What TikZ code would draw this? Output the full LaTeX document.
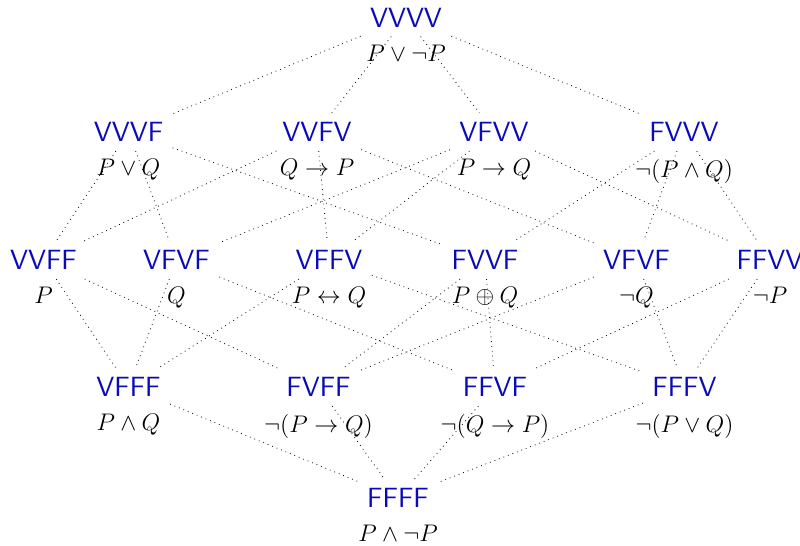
\documentclass[tikz,border=0pt]{standalone}
\usepackage{fontspec}
\definecolor{labc}{RGB}{10,10,185}
\begin{document}
\begin{tikzpicture}[x=0.5pt,y=-0.5pt,
  lab/.style={font=\fontsize{13.9}{16}\sffamily, text=labc, inner sep=4.5pt},
  fml/.style={font=\fontsize{12}{14}\selectfont, anchor=north, inner sep=3.9pt},
  edge/.style={dotted, line width=0.4pt}]
\useasboundingbox (0,0) rectangle (800,546);
% row 0
\node[lab] (a0) at (406,17.5) {VVVV};
% row 1
\node[lab] (b1) at (128.5,132) {VVVF};
\node[lab] (b2) at (317,132) {VVFV};
\node[lab] (b3) at (494,132) {VFVV};
\node[lab] (b4) at (684,132) {FVVV};
% row 2
\node[lab] (c1) at (43.5,260) {VVFF};
\node[lab] (c2) at (176.5,260) {VFVF};
\node[lab] (c3) at (329,260) {VFFV};
\node[lab] (c4) at (485,260) {FVVF};
\node[lab] (c5) at (636.5,260) {VFVF};
\node[lab] (c6) at (770,260) {FFVV};
% row 3
\node[lab] (d1) at (128.5,387) {VFFF};
\node[lab] (d2) at (318.5,387) {FVFF};
\node[lab] (d3) at (495,387) {FFVF};
\node[lab] (d4) at (684.5,387) {FFFV};
% row 4
\node[lab] (e) at (398,498) {FFFF};
% formulas
\node[fml] (fa0) at (a0.south) {$P\lor\neg P$};
\node[fml] (fb1) at (b1.south) {$P\lor Q$};
\node[fml] (fb2) at (b2.south) {$Q\to P$};
\node[fml] (fb3) at (b3.south) {$P\to Q$};
\node[fml] (fb4) at (b4.south) {$\neg(P\land Q)$};
\node[fml] (fc1) at (c1.south) {$P$};
\node[fml] (fc2) at (c2.south) {$Q$};
\node[fml] (fc3) at (c3.south) {$P\leftrightarrow Q$};
\node[fml] (fc4) at (c4.south) {$P\oplus Q$};
\node[fml] (fc5) at (c5.south) {$\neg Q$};
\node[fml] (fc6) at (c6.south) {$\neg P$};
\node[fml] (fd1) at (d1.south) {$P\land Q$};
\node[fml] (fd2) at (d2.south) {$\neg(P\to Q)$};
\node[fml] (fd3) at (d3.south) {$\neg(Q\to P)$};
\node[fml] (fd4) at (d4.south) {$\neg(P\lor Q)$};
\node[fml] (fe) at (e.south) {$P\land\neg P$};
% edges
\foreach \t in {b1,b2,b3,b4} \draw[edge] (a0) -- (\t);
\foreach \t in {c1,c2,c4} \draw[edge] (b1) -- (\t);
\foreach \t in {c1,c3,c5} \draw[edge] (b2) -- (\t);
\foreach \t in {c2,c3,c6} \draw[edge] (b3) -- (\t);
\foreach \t in {c4,c5,c6} \draw[edge] (b4) -- (\t);
\foreach \t in {d1,d2} \draw[edge] (c1) -- (\t);
\foreach \t in {d1,d3} \draw[edge] (c2) -- (\t);
\foreach \t in {d1,d4} \draw[edge] (c3) -- (\t);
\foreach \t in {d2,d3} \draw[edge] (c4) -- (\t);
\foreach \t in {d2,d4} \draw[edge] (c5) -- (\t);
\foreach \t in {d3,d4} \draw[edge] (c6) -- (\t);
\foreach \s in {d1,d2,d3,d4} \draw[edge] (\s) -- (e);
\end{tikzpicture}
\end{document}
